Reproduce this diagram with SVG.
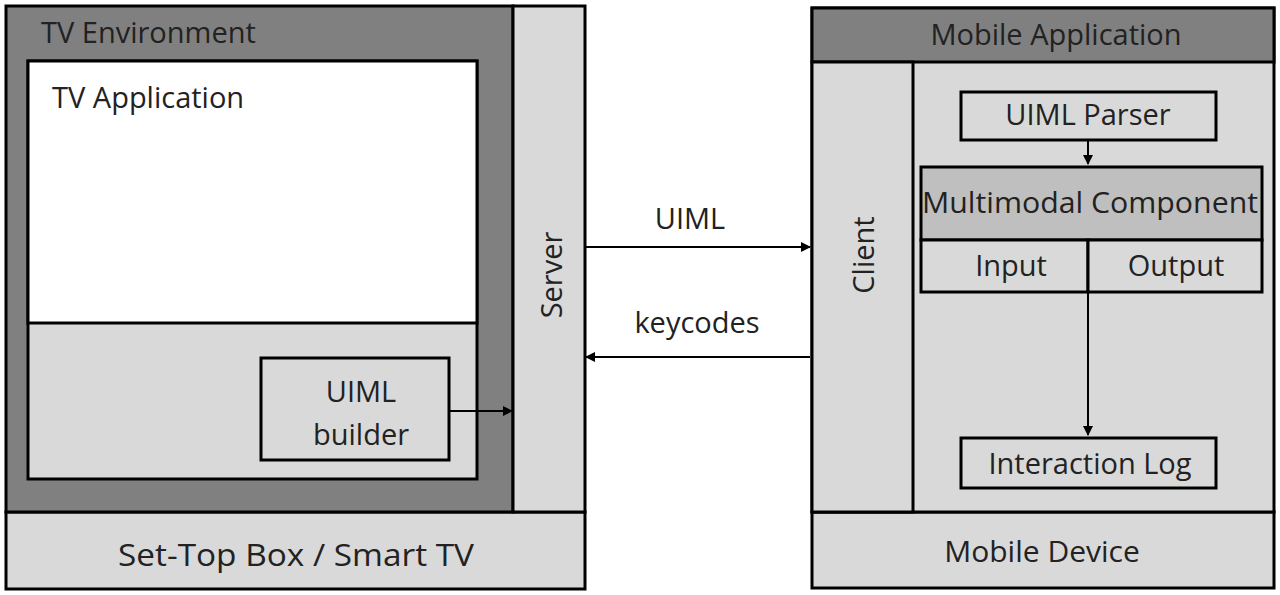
<svg xmlns="http://www.w3.org/2000/svg" width="1280" height="595" viewBox="0 0 1280 595">
<defs>
<style>
.box{stroke:#000;stroke-width:3}
.dark{fill:#808080}
.light{fill:#d9d9d9}
.mid{fill:#bfbfbf}
.white{fill:#fff}
text{font-family:"Open Sans","Liberation Sans",sans-serif;font-size:29px;fill:#222}
.c{text-anchor:middle}
.conn{stroke:#000;stroke-width:2;fill:none}
</style>
<marker id="arr" viewBox="0 0 10 10" refX="9" refY="5" markerWidth="5" markerHeight="5" orient="auto"><path d="M0,0 L10,5 L0,10 z" fill="#000"/></marker>
</defs>
<rect width="1280" height="595" fill="#fff"/>
<g id="set-top-box">
<rect class="box light" x="6" y="512" width="579" height="77"/>
<text class="c" x="296" y="566" style="font-size:31px" textLength="356" lengthAdjust="spacingAndGlyphs">Set-Top Box / Smart TV</text>
</g>
<g id="tv-environment">
<rect class="box dark" x="6" y="6" width="507" height="506"/>
<text x="41" y="43">TV Environment</text>
</g>
<g id="server">
<rect class="box light" x="513" y="6" width="72" height="506"/>
<text class="c" transform="translate(562,275) rotate(-90)">Server</text>
</g>
<g id="tv-application">
<rect class="box light" x="28" y="61" width="449" height="418"/>
<rect class="box white" x="28" y="61" width="449" height="262"/>
<text x="52" y="108">TV Application</text>
</g>
<g id="uiml-builder">
<rect class="box light" x="261" y="358" width="188" height="102"/>
<text class="c" x="361" y="402">UIML</text>
<text class="c" x="361" y="445">builder</text>
</g>
<g id="mobile-device">
<rect class="box light" x="812" y="512" width="462" height="76"/>
<text class="c" x="1042" y="562" style="font-size:30px">Mobile Device</text>
</g>
<g id="mobile-application">
<rect class="box light" x="812" y="8" width="462" height="504"/>
<rect class="box dark" x="812" y="8" width="462" height="54"/>
<text class="c" x="1056" y="45">Mobile Application</text>
</g>
<g id="client">
<rect class="box light" x="812" y="62" width="101" height="450"/>
<text class="c" transform="translate(874,255) rotate(-90)">Client</text>
</g>
<g id="uiml-parser">
<rect class="box light" x="961" y="92" width="255" height="48"/>
<text class="c" x="1088" y="125">UIML Parser</text>
</g>
<g id="multimodal-component">
<rect class="box mid" x="921" y="167" width="341" height="73"/>
<text class="c" x="1090" y="213" textLength="336" lengthAdjust="spacingAndGlyphs">Multimodal Component</text>
</g>
<g id="input">
<rect class="box light" x="921" y="240" width="167" height="52"/>
<text class="c" x="1011" y="276">Input</text>
</g>
<g id="output">
<rect class="box light" x="1088" y="240" width="174" height="52"/>
<text class="c" x="1176" y="276">Output</text>
</g>
<g id="interaction-log">
<rect class="box light" x="961" y="438" width="255" height="50"/>
<text class="c" x="1090" y="474">Interaction Log</text>
</g>
<g id="connectors">
<line class="conn" x1="449" y1="411" x2="512" y2="411" marker-end="url(#arr)"/>
<line class="conn" x1="586" y1="247" x2="810" y2="247" marker-end="url(#arr)"/>
<text class="c" x="690" y="229">UIML</text>
<line class="conn" x1="810" y1="357" x2="586" y2="357" marker-end="url(#arr)"/>
<text class="c" x="697" y="333">keycodes</text>
<line class="conn" x1="1088" y1="141" x2="1088" y2="164" marker-end="url(#arr)"/>
<line class="conn" x1="1088" y1="292" x2="1088" y2="435" marker-end="url(#arr)"/>
</g>
</svg>
